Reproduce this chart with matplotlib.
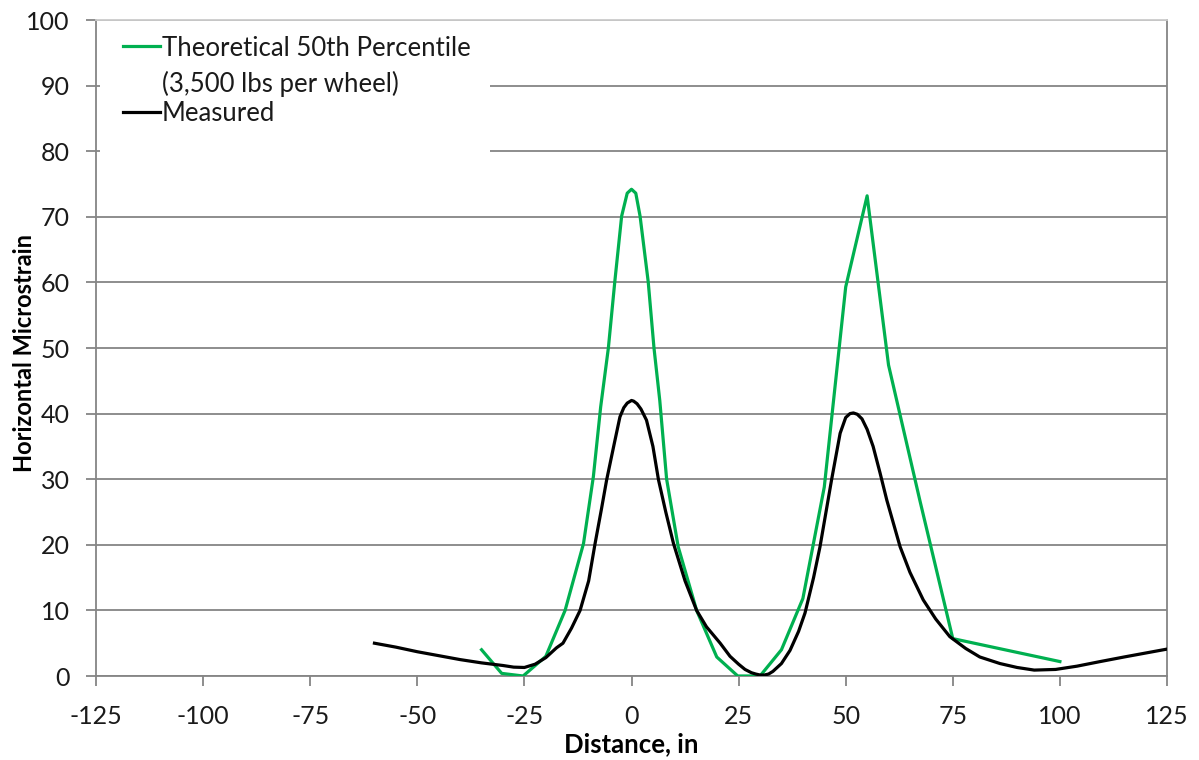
import matplotlib
matplotlib.use("Agg")
import matplotlib.pyplot as plt
from matplotlib.patches import Rectangle
from matplotlib.lines import Line2D

plt.rcParams['font.family'] = ['Lato', 'DejaVu Sans']

# Theoretical 50th percentile strain (3,500 lbs per wheel)
theo_x = [-35, -30.3, -25.3, -20, -15.5, -11.2, -8.9, -7.2, -5.4, -3.9, -2.3, -1.0, 0.0,
          1.0, 2.0, 3.9, 5.25, 6.6, 8.2, 10.9, 15.2, 19.9, 24.8, 30, 35, 40, 45, 50,
          55, 60, 67.3, 75, 100]
theo_y = [4.0, 0.4, 0.0, 3.0, 10.0, 20.2, 30.4, 41.0, 50.0, 60.1, 70.1, 73.6, 74.2,
          73.6, 70.1, 60.1, 50.0, 42.0, 30.0, 19.7, 10.0, 2.9, 0.0, 0.0, 4.0, 11.8, 28.8, 59.3,
          73.2, 47.4, 26.8, 5.7, 2.2]

# Measured strain along the wheel path
meas_x = [-60, -55, -50, -45, -40, -35, -30, -27.5, -25, -22.5, -20, -17.5, -16, -14, -12,
          -10, -8.5, -7, -5.8, -4, -2.7, -1.8, -1, 0, 0.5, 1.3, 2.2, 3.5, 5, 6.3, 8, 9.8,
          12.5, 15.2, 17.5, 20.7, 23, 25, 26.5, 28, 29, 30, 31, 32, 33, 35, 37, 39, 40.5,
          42.5, 44, 46.7, 48.7, 50, 51, 51.8, 52.7, 53.8, 55, 56.4, 58, 59.6, 62.7, 65,
          68.1, 71, 74.3, 78, 81.3, 86, 90, 94, 99, 104, 109.4, 115, 120, 125]
meas_y = [5.0, 4.4, 3.7, 3.1, 2.5, 2.0, 1.6, 1.35, 1.3, 1.8, 2.8, 4.3, 5.0, 7.3, 10.0,
          14.5, 20.2, 25.5, 29.9, 35.5, 39.5, 40.9, 41.6, 42.0, 41.9, 41.5, 40.7, 39.0, 35.0,
          29.9, 25.0, 20.2, 14.5, 10.0, 7.5, 5.0, 3.0, 1.8, 1.0, 0.5, 0.3, 0.15, 0.15, 0.3,
          0.7, 1.9, 3.9, 6.8, 9.6, 15.0, 19.7, 29.9, 37.0, 39.4, 40.0, 40.1, 39.9, 39.2,
          37.6, 35.0, 31.0, 26.8, 19.7, 15.8, 11.6, 8.7, 6.0, 4.2, 2.9, 1.9, 1.3, 0.9, 1.0,
          1.5, 2.2, 2.9, 3.5, 4.1]

x_ticks = [-125, -100, -75, -50, -25, 0, 25, 50, 75, 100, 125]
y_ticks = [0, 10, 20, 30, 40, 50, 60, 70, 80, 90, 100]

GREEN = '#00b050'
W, H = 1199, 760
L, R, T, B = 96, 1167, 20, 676

fig = plt.figure(figsize=(W / 100, H / 100), dpi=100)
ax = fig.add_axes([L / W, 1 - B / H, (R - L) / W, (B - T) / H])


def axx(px):
    return (px - L) / (R - L)


def axy(py):
    return (B - py) / (B - T)


ax.set_xlim(-125, 125)
ax.set_ylim(0, 100)
ax.set_xticks(x_ticks)
ax.set_yticks(y_ticks)
ax.set_xticklabels([str(v) for v in x_ticks])
ax.set_yticklabels([str(v) for v in y_ticks])

ax.set_axisbelow(True)
ax.yaxis.grid(True, color='#858585', linewidth=1.3)
ax.xaxis.grid(False)

for side in ['left', 'bottom', 'right']:
    ax.spines[side].set_color('#858585')
    ax.spines[side].set_linewidth(1.3)
ax.spines['top'].set_color('#cccccc')
ax.spines['top'].set_linewidth(1.3)

ax.tick_params(axis='both', direction='out', length=7, width=1.3, color='#858585',
               labelsize=18, labelcolor='#1a1a1a')
ax.tick_params(axis='x', pad=14)
ax.tick_params(axis='y', pad=12)

# white panel behind the legend, hiding the grid there
ax.add_patch(Rectangle((0.004, axy(160)), axx(486), 1 - axy(160) - 0.002,
                       transform=ax.transAxes, facecolor='white', edgecolor='none',
                       zorder=1))

ax.plot(theo_x, theo_y, color=GREEN, linewidth=2.3, zorder=3)
ax.plot(meas_x, meas_y, color='black', linewidth=2.3, zorder=4)

# legend entries
for py, color in [(46, GREEN), (112, 'black')]:
    ax.add_line(Line2D([axx(123), axx(160)], [axy(py), axy(py)], transform=ax.transAxes,
                       color=color, linewidth=2.3, zorder=5))
legend_text = [(46, 'Theoretical 50th Percentile'), (81, '(3,500 lbs per wheel)'),
               (111, 'Measured')]
for py, txt in legend_text:
    ax.text(axx(162), axy(py), txt, transform=ax.transAxes, fontsize=18.5,
            color='#1a1a1a', ha='left', va='center_baseline', zorder=5)

ax.set_xlabel('Distance, in', fontsize=18.5, fontweight='bold', labelpad=3)
ax.set_ylabel('Horizontal Microstrain', fontsize=17, fontweight='bold')
ax.yaxis.label.set_va('center')
ax.yaxis.set_label_coords(axx(25), axy(353))

fig.savefig('out.png', dpi=100)
